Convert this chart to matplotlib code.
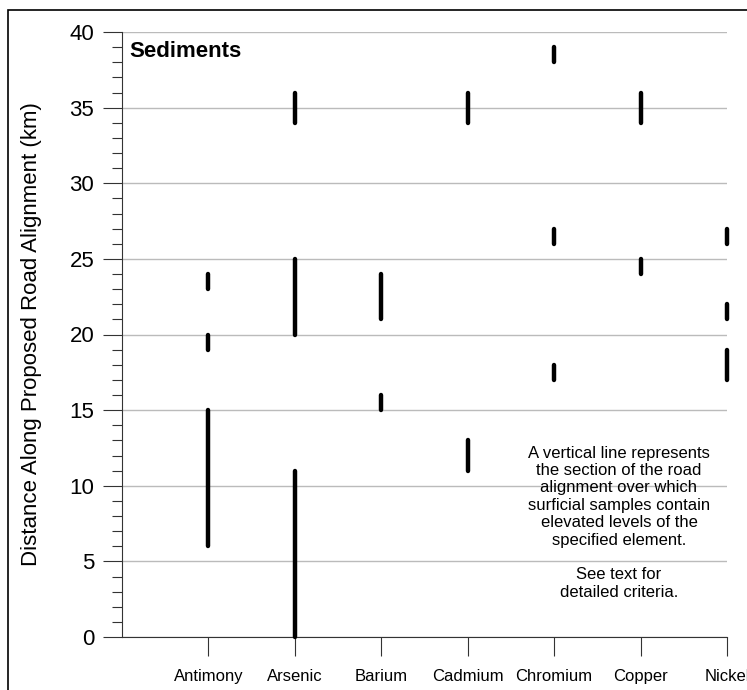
import matplotlib
matplotlib.use('Agg')
from matplotlib import pyplot as plt
from matplotlib.patches import Rectangle

plt.rcParams['font.family'] = ['Liberation Sans', 'DejaVu Sans']

elements = ['Antimony', 'Arsenic', 'Barium', 'Cadmium', 'Chromium', 'Copper', 'Nickel']
# elevated sections along the alignment, (start km, end km) per element
antimony = [(23, 24), (19, 20), (6, 15)]
arsenic = [(34, 36), (20, 25), (0, 11)]
barium = [(21, 24), (15, 16)]
cadmium = [(34, 36), (11, 13)]
chromium = [(38, 39), (26, 27), (17, 18)]
copper = [(34, 36), (24, 25)]
nickel = [(26, 27), (21, 22), (17, 19)]
sections = [antimony, arsenic, barium, cadmium, chromium, copper, nickel]

note = ('A vertical line represents\nthe section of the road\nalignment over which\n'
        'surficial samples contain\nelevated levels of the\nspecified element.\n\n'
        'See text for\ndetailed criteria.')

fig = plt.figure(figsize=(7.47, 6.90), dpi=100)
fig.patches.append(Rectangle((8 / 747, -0.05), 1.1, (690 - 10) / 690 + 0.05,
                             transform=fig.transFigure, fill=False,
                             edgecolor='black', linewidth=1.2, clip_on=False))

ax = fig.add_axes([122 / 747, 53 / 690, 605 / 747, 605 / 690])

for i, segs in enumerate(sections):
    for lo, hi in segs:
        ax.plot([i + 1, i + 1], [lo, hi], color='black', linewidth=3.2,
                solid_capstyle='round', zorder=3, clip_on=False)

ax.set_xlim(0, 7)
ax.set_ylim(0, 40)
ax.set_yticks(range(0, 41, 5))
ax.set_yticks(range(0, 41), minor=True)
ax.set_xticks(range(1, 8))
ax.set_xticklabels(elements, fontsize=12)
ax.tick_params(axis='y', which='major', length=14, width=0.8, labelsize=16, pad=6, color='#333333')
ax.tick_params(axis='y', which='minor', length=7, width=0.8, color='#333333')
ax.tick_params(axis='x', length=14, width=0.8, pad=9, color='#333333')
ax.yaxis.grid(True, color='#bbbbbb', linewidth=1)
ax.set_axisbelow(True)
for side in ['top', 'right']:
    ax.spines[side].set_visible(False)
for side in ['left', 'bottom']:
    ax.spines[side].set_color('#333333')
    ax.spines[side].set_linewidth(0.8)

ax.set_ylabel('Distance Along Proposed Road Alignment (km)', fontsize=16)
ax.yaxis.set_label_coords(-0.133, 0.5)
ax.text(0.08, 38.7, 'Sediments', fontsize=16, fontweight='bold', va='center')
ax.text(5.75, 12.65, note, fontsize=12, ha='center', va='top', linespacing=1.2)

fig.savefig('out.png', dpi=100)
